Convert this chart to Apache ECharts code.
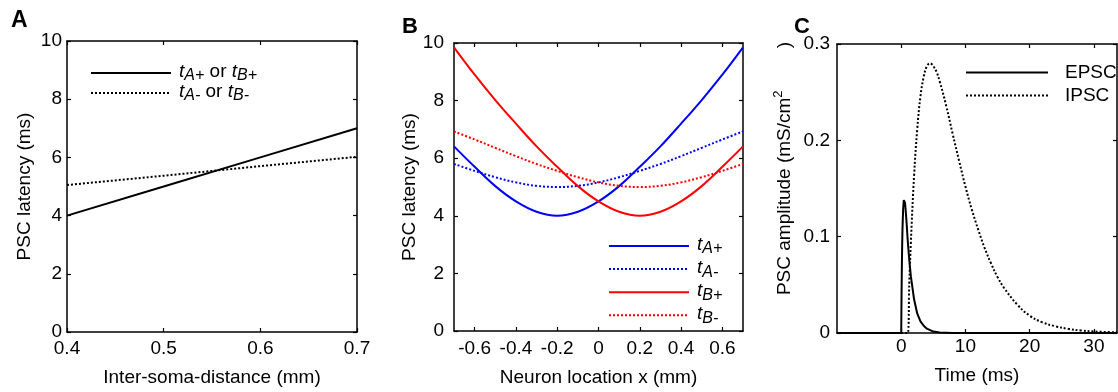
<!DOCTYPE html>
<html><head><meta charset="utf-8">
<script src="https://cdn.jsdelivr.net/npm/echarts@6/dist/echarts.min.js"></script>
<style>html,body{margin:0;padding:0;background:#fff}#c{width:1118px;height:392px}</style>
</head><body><div id="c"></div>
<script>
// ---- Panel A: latency vs inter-soma distance
const aX = [0.4, 0.5, 0.6, 0.7];
const aPlus = [4.0, 5.0, 6.0, 7.0];
const aMinus = [5.05, 5.37, 5.70, 6.02];
const aXTicks = [0.4, 0.5, 0.6, 0.7];
// ---- Panel B: latency vs neuron location
const bX = [-0.7, -0.6, -0.5, -0.4, -0.3, -0.2, -0.1, 0, 0.1, 0.2, 0.3, 0.4, 0.5, 0.6, 0.7];
const bAPlus  = [6.41, 5.70, 5.03, 4.50, 4.14, 4.00, 4.14, 4.50, 5.03, 5.70, 6.41, 7.20, 8.02, 8.90, 9.85];
const bAMinus = [5.80, 5.56, 5.34, 5.16, 5.04, 5.00, 5.04, 5.16, 5.34, 5.56, 5.80, 6.07, 6.36, 6.65, 6.93];
const bBPlus  = [9.85, 8.90, 8.02, 7.20, 6.41, 5.70, 5.03, 4.50, 4.14, 4.00, 4.14, 4.50, 5.03, 5.70, 6.41];
const bBMinus = [6.93, 6.65, 6.36, 6.07, 5.80, 5.56, 5.34, 5.16, 5.04, 5.00, 5.04, 5.16, 5.34, 5.56, 5.80];
const bXTicks = [-0.6, -0.4, -0.2, 0, 0.2, 0.4, 0.6];
// ---- Panel C: PSC amplitude vs time
const cEpscT = [-10, 0, 0.05, 0.1, 0.15, 0.2, 0.3, 0.4, 0.5, 0.6, 0.8, 1.0, 1.25, 1.5, 2, 2.5, 3, 3.5, 4, 5, 6, 8, 10, 20, 33.6];
const cEpscV = [0, 0, 0.039, 0.069, 0.092, 0.109, 0.129, 0.138, 0.139, 0.135, 0.118, 0.097, 0.076, 0.059, 0.035, 0.020, 0.012, 0.0075, 0.0045, 0.0015, 0.0005, 0.0001, 0, 0, 0];
const cIpscT = [-10, 1, 1.25, 1.5, 2, 2.5, 3, 3.5, 4, 4.5, 5, 5.5, 6, 7, 8, 9, 10, 11, 12, 13, 14, 15, 16, 18, 20, 22, 24, 26, 28, 30, 33.6];
const cIpscV = [0, 0, 0.051, 0.094, 0.163, 0.212, 0.246, 0.266, 0.277, 0.280, 0.277, 0.271, 0.261, 0.236, 0.207, 0.179, 0.152, 0.128, 0.107, 0.088, 0.072, 0.058, 0.047, 0.030, 0.018, 0.011, 0.007, 0.0043, 0.0026, 0.0016, 0.0007];
const cXTicks = [0, 10, 20, 30];
const latencyTicks = [0, 2, 4, 6, 8, 10];
const ampTicks = [0, 0.1, 0.2, 0.3];

const FF = '"Liberation Sans", Arial, Helvetica, sans-serif';
const pairs = (xs, ys) => xs.map((x, i) => [x, ys[i]]);
const DOT = [2, 2];

const grids = [
  {left: 67, top: 41, width: 290, height: 291},
  {left: 454, top: 43, width: 289, height: 288},
  {left: 837, top: 44, width: 280, height: 289}
].map(g => Object.assign({outerBoundsMode: 'none', containLabel: false, show: false}, g));

function axisBase(gi, min, max, ticks, pos, labelMargin, showLabel) {
  return {
    type: 'value', gridIndex: gi, min: min, max: max, position: pos,
    splitLine: {show: false},
    axisLine: {show: true, onZero: false, lineStyle: {color: '#000', width: 1.5}},
    axisTick: {show: true, inside: true, length: 4, customValues: ticks, lineStyle: {color: '#000', width: 1.2}},
    axisLabel: {show: showLabel, customValues: ticks, margin: labelMargin, color: '#000', fontSize: 19, fontFamily: FF},
    nameTextStyle: {color: '#000', fontSize: 19, fontFamily: FF}
  };
}
function named(ax, name, gap) {
  return Object.assign(ax, {name: name, nameLocation: 'middle', nameGap: gap});
}

const xAxis = [
  named(axisBase(0, 0.4, 0.7, aXTicks, 'bottom', 7, true), 'Inter-soma-distance (mm)', 36),
  axisBase(0, 0.4, 0.7, aXTicks, 'top', 7, false),
  named(axisBase(1, -0.7, 0.7, bXTicks, 'bottom', 8, true), 'Neuron location x (mm)', 37),
  axisBase(1, -0.7, 0.7, bXTicks, 'top', 8, false),
  named(axisBase(2, -10, 33.6, cXTicks, 'bottom', 4, true), 'Time (ms)', 33),
  axisBase(2, -10, 33.6, cXTicks, 'top', 4, false)
];
const supRich = {
  n: {fontSize: 19, fontFamily: FF, color: '#000', verticalAlign: 'bottom', lineHeight: 24, height: 20},
  sup: {fontSize: 13, fontFamily: FF, color: '#000', verticalAlign: 'top', lineHeight: 24, height: 14}
};
const yAxis = [
  named(axisBase(0, 0, 10, latencyTicks, 'left', 5, true), 'PSC latency (ms)', 33),
  axisBase(0, 0, 10, latencyTicks, 'right', 5, false),
  named(axisBase(1, 0, 10, latencyTicks, 'left', 10, true), 'PSC latency (ms)', 34),
  axisBase(1, 0, 10, latencyTicks, 'right', 10, false),
  named(axisBase(2, 0, 0.3, ampTicks, 'left', 7, true), '{n|PSC amplitude (mS/cm}{sup|2}{n|        )}', 42),
  axisBase(2, 0, 0.3, ampTicks, 'right', 7, false)
];
yAxis[4].nameTextStyle = {color: '#000', fontSize: 19, fontFamily: FF, rich: supRich, padding: [0, 0, 0, 40]};

function line(name, xi, yi, data, color, dash, smooth) {
  return {
    name: name, type: 'line', xAxisIndex: xi, yAxisIndex: yi, data: data,
    symbol: 'emptyCircle', symbolSize: 0, showSymbol: false, smooth: smooth ? 0.4 : false,
    animation: false, silent: true,
    lineStyle: {color: color, width: 2, type: dash ? DOT : 'solid'},
    itemStyle: {color: color}
  };
}
const NA1 = 'tA+ or tB+', NA2 = 'tA- or tB-';
const series = [
  line(NA1, 0, 0, pairs(aX, aPlus), '#000', false, false),
  line(NA2, 0, 0, pairs(aX, aMinus), '#000', true, false),
  line('tA+', 2, 2, pairs(bX, bAPlus), '#0000ff', false, true),
  line('tA-', 2, 2, pairs(bX, bAMinus), '#0000ff', true, true),
  line('tB+', 2, 2, pairs(bX, bBPlus), '#ff0000', false, true),
  line('tB-', 2, 2, pairs(bX, bBMinus), '#ff0000', true, true),
  line('EPSC', 4, 4, pairs(cEpscT, cEpscV), '#000', false, false),
  line('IPSC', 4, 4, pairs(cIpscT, cIpscV), '#000', true, true)
];

const subRich = {
  t: {fontStyle: 'italic', fontSize: 19, fontFamily: FF, color: '#000', verticalAlign: 'top', lineHeight: 21, height: 18},
  s: {fontStyle: 'italic', fontSize: 16, fontFamily: FF, color: '#000', verticalAlign: 'bottom', lineHeight: 21, height: 15},
  n: {fontSize: 19, fontFamily: FF, color: '#000', verticalAlign: 'top', lineHeight: 21, height: 18}
};
const legendText = {
  'tA+ or tB+': '{t|t}{s|A+}{n| or }{t|t}{s|B+}',
  'tA- or tB-': '{t|t}{s|A-}{n| or }{t|t}{s|B-}',
  'tA+': '{t|t}{s|A+}', 'tA-': '{t|t}{s|A-}', 'tB+': '{t|t}{s|B+}', 'tB-': '{t|t}{s|B-}'
};
function legend(data, left, top, w, textPad, gap, rich) {
  return {
    data: data, left: left, top: top, orient: 'vertical', itemWidth: w, itemHeight: 12,
    itemGap: gap, selectedMode: false, padding: 0,
    itemStyle: {color: 'rgba(0,0,0,0)', borderColor: 'rgba(0,0,0,0)', borderWidth: 0, opacity: 0},
    formatter: n => legendText[n] || n,
    textStyle: {color: '#000', fontSize: 19, fontFamily: FF, rich: rich, padding: [0, 0, 0, textPad]}
  };
}

const option = {
  backgroundColor: '#fff', animation: false,
  grid: grids, xAxis: xAxis, yAxis: yAxis, series: series,
  legend: [
    legend([NA1, NA2], 90, 62, 80, 3, -2, subRich),
    legend(['tA+', 'tA-', 'tB+', 'tB-'], 608, 235, 80, 3, 1.1, subRich),
    legend(['EPSC', 'IPSC'], 965, 63, 82, 12, 4, null)
  ],
  graphic: [
    {type: 'text', left: 11, top: 9, style: {text: 'A', font: 'bold 23px ' + FF, fill: '#000'}},
    {type: 'text', left: 402, top: 16, style: {text: 'B', font: 'bold 22px ' + FF, fill: '#000'}},
    {type: 'text', left: 794, top: 16, style: {text: 'C', font: 'bold 22px ' + FF, fill: '#000'}}
  ]
};
const chart = echarts.init(document.getElementById('c'), null, {renderer: 'canvas'});
chart.setOption(option);
</script></body></html>
